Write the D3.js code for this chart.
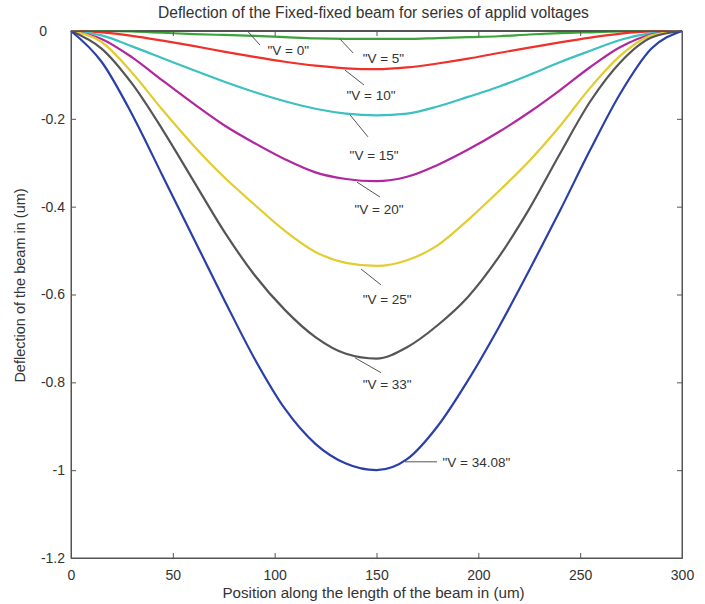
<!DOCTYPE html>
<meta charset="utf-8">
<script src="https://d3js.org/d3.v7.min.js"></script>
<style>
  body { margin: 0; background: #fff; }
  text { font-family: "Liberation Sans", Arial, sans-serif; fill: #333; }
</style>
<body>
<div id="chart"></div>
<script>
  // position along the beam (um)
  const positions = [0, 15, 30, 45, 60, 75, 90, 105, 120, 135, 150, 165, 180, 195, 210, 225, 240, 255, 270, 285, 300];

  // deflection (um) for each applied voltage
  const v0    = [0, 0, 0, 0, 0, 0, 0, 0, 0, 0, 0, 0, 0, 0, 0, 0, 0, 0, 0, 0, 0];
  const v5    = [0, 0, -0.001, -0.004, -0.007, -0.009, -0.011, -0.014, -0.017, -0.018, -0.018, -0.018, -0.016, -0.014, -0.012, -0.008, -0.005, -0.003, -0.001, 0, 0];
  const v10   = [0, -0.003, -0.011, -0.022, -0.034, -0.047, -0.059, -0.07, -0.079, -0.085, -0.087, -0.083, -0.074, -0.063, -0.05, -0.038, -0.026, -0.015, -0.006, -0.001, 0];
  const v15   = [0, -0.01, -0.035, -0.062, -0.089, -0.115, -0.139, -0.16, -0.177, -0.188, -0.192, -0.188, -0.172, -0.15, -0.127, -0.1, -0.071, -0.045, -0.02, -0.005, 0];
  const v20   = [0, -0.018, -0.06, -0.113, -0.165, -0.214, -0.255, -0.292, -0.322, -0.337, -0.342, -0.332, -0.305, -0.27, -0.23, -0.185, -0.135, -0.082, -0.036, -0.008, 0];
  const v25   = [0, -0.025, -0.095, -0.18, -0.26, -0.332, -0.395, -0.455, -0.503, -0.528, -0.535, -0.522, -0.488, -0.43, -0.365, -0.296, -0.217, -0.129, -0.055, -0.01, 0];
  const v33   = [0, -0.04, -0.12, -0.225, -0.34, -0.455, -0.555, -0.635, -0.697, -0.735, -0.746, -0.72, -0.67, -0.605, -0.515, -0.405, -0.28, -0.16, -0.07, -0.015, 0];
  const v3408 = [0, -0.07, -0.19, -0.33, -0.47, -0.61, -0.745, -0.86, -0.94, -0.985, -1.0, -0.975, -0.9, -0.795, -0.675, -0.545, -0.41, -0.27, -0.14, -0.04, 0];

  const seriesNames = ['"V = 0"', '"V = 5"', '"V = 10"', '"V = 15"', '"V = 20"', '"V = 25"', '"V = 33"', '"V = 34.08"'];
  const seriesValues = [v0, v5, v10, v15, v20, v25, v33, v3408];
  const seriesColors = ["#555555", "#3aa33a", "#f0302a", "#3cc0c0", "#b0289e", "#e2cc30", "#555555", "#2a3fa8"];

  const xTicks = [0, 50, 100, 150, 200, 250, 300];
  const yTicks = [0, -0.2, -0.4, -0.6, -0.8, -1, -1.2];

  // annotations in data units: leader start, leader end, text position
  const leaderStart = [[87, -0.002], [132, -0.018], [134.5, -0.089], [137, -0.191], [140.4, -0.344], [142.4, -0.542], [139.4, -0.744], [164, -0.981]];
  const leaderEnd   = [[92.8, -0.032], [138.5, -0.05], [143.9, -0.123], [145.8, -0.241], [151.7, -0.378], [152.2, -0.578], [152.2, -0.778], [179.7, -0.981]];
  const textPos     = [[96.5, -0.043], [143.2, -0.061], [135.3, -0.146], [136.8, -0.282], [139.2, -0.407], [143.2, -0.612], [143.2, -0.805], [182.4, -0.981]];

  const margin = {top: 31, right: 23, bottom: 46, left: 71},
      width = 705 - margin.left - margin.right,
      height = 604 - margin.top - margin.bottom;

  const svg = d3.select("#chart")
    .append("svg")
      .attr("width", 705)
      .attr("height", 604)
    .append("g")
      .attr("transform", `translate(${margin.left},${margin.top})`);

  const x = d3.scaleLinear().domain([0, 300]).range([0, width]);
  const y = d3.scaleLinear().domain([-1.2, 0]).range([height, 0]);

  // curves
  const line = d3.line()
      .x((d, i) => x(positions[i]))
      .y(d => y(d))
      .curve(d3.curveMonotoneX);

  svg.append("g")
    .selectAll("path")
    .data(seriesValues)
    .join("path")
      .attr("fill", "none")
      .attr("stroke", (d, i) => seriesColors[i])
      .attr("stroke-width", 2.2)
      .attr("d", line);

  // leaders + labels
  const labels = svg.append("g");
  seriesNames.forEach((name, i) => {
    labels.append("line")
      .attr("x1", x(leaderStart[i][0])).attr("y1", y(leaderStart[i][1]))
      .attr("x2", x(leaderEnd[i][0])).attr("y2", y(leaderEnd[i][1]))
      .attr("stroke", "#555").attr("stroke-width", 1);
    labels.append("text")
      .attr("x", x(textPos[i][0]))
      .attr("y", y(textPos[i][1]))
      .attr("dy", "0.35em")
      .style("font-size", "13.5px")
      .text(name);
  });

  // frame with inward ticks on all four sides
  svg.append("g").attr("transform", `translate(0,${height})`)
    .call(d3.axisBottom(x).tickValues(xTicks).tickSizeInner(-5).tickSizeOuter(0).tickPadding(12));
  const yAxisG = svg.append("g")
    .call(d3.axisLeft(y).tickValues(yTicks).tickSizeInner(-5).tickSizeOuter(0).tickPadding(6).tickFormat(d => String(d)));
  // the top "0" sits further left in the original
  yAxisG.selectAll(".tick text").filter(d => d === 0).attr("x", -24);

  svg.append("g").call(d3.axisTop(x).tickValues(xTicks).tickSizeInner(-5).tickSizeOuter(0).tickFormat(""));
  svg.append("g").attr("transform", `translate(${width},0)`)
    .call(d3.axisRight(y).tickValues(yTicks).tickSizeInner(-5).tickSizeOuter(0).tickFormat(""));

  svg.selectAll(".domain, .tick line").attr("stroke", "#555");
  svg.selectAll(".tick text").style("font-size", "14px").attr("fill", "#333");

  svg.append("rect")
    .attr("width", width).attr("height", height)
    .attr("fill", "none").attr("stroke", "#555");

  // titles
  svg.append("text")
    .attr("x", width / 2 - 3).attr("y", -13)
    .attr("text-anchor", "middle")
    .style("font-size", "15.6px")
    .text("Deflection of the Fixed-fixed beam for series of applid voltages");

  svg.append("text")
    .attr("x", width / 2 - 3).attr("y", height + 40)
    .attr("text-anchor", "middle")
    .style("font-size", "15.2px")
    .text("Position along the length of the beam in (um)");

  svg.append("text")
    .attr("transform", `translate(${-51},${height / 2 - 9}) rotate(-90)`)
    .attr("text-anchor", "middle")
    .attr("dy", "0.35em")
    .style("font-size", "14.5px")
    .text("Deflection of the beam in (um)");
</script>
</body>
